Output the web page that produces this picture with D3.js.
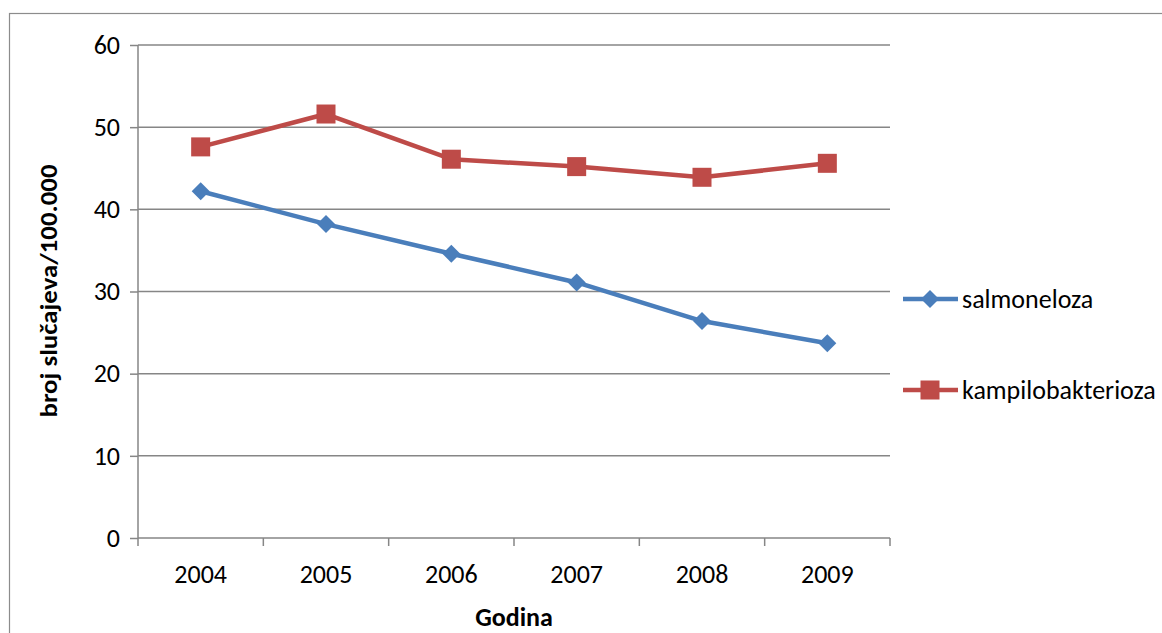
<!DOCTYPE html>
<html>
<head>
<meta charset="utf-8">
<script src="https://cdn.jsdelivr.net/npm/d3@7"></script>
<style>
  html, body { margin: 0; padding: 0; background: #fff; }
  svg { display: block; }
  text { font-family: Carlito, Lato, "Open Sans", sans-serif; fill: #000; }
</style>
</head>
<body>
<svg id="chart" width="1162" height="633"></svg>
<script>
// Incidence per 100,000 inhabitants, 2004–2009
const years = ["2004", "2005", "2006", "2007", "2008", "2009"];
const salmoneloza = [42.2, 38.2, 34.6, 31.1, 26.4, 23.7];
const kampilobakterioza = [47.6, 51.6, 46.1, 45.2, 43.9, 45.6];
const yTicks = [0, 10, 20, 30, 40, 50, 60];
const seriesNames = ["salmoneloza", "kampilobakterioza"];
const seriesColors = ["#4A7EBB", "#BE4B48"];

const svg = d3.select("#chart");
const plot = { left: 138, right: 890, top: 45, bottom: 538 };
const fs = 26;

// outer chart frame
svg.append("rect")
  .attr("x", 9.5).attr("y", 13.5)
  .attr("width", 1200).attr("height", 700)
  .attr("fill", "none").attr("stroke", "#8c8c8c").attr("stroke-width", 1.2);

const x = d3.scaleBand().domain(years).range([plot.left, plot.right]);
const y = d3.scaleLinear().domain([0, 60]).range([plot.bottom, plot.top]);

// horizontal gridlines + y axis
const yAxis = svg.append("g")
  .attr("transform", `translate(${plot.left},0)`)
  .call(d3.axisLeft(y).tickValues(yTicks).tickSize(8).tickPadding(10))
  .call(g => g.select(".domain").remove());
yAxis.selectAll(".tick line").attr("stroke", "#868686").attr("stroke-width", 1.5);
yAxis.selectAll(".tick text").attr("font-size", fs).attr("font-family", "Carlito, Lato, sans-serif");

svg.append("g").selectAll("line")
  .data(yTicks)
  .join("line")
  .attr("x1", plot.left).attr("x2", plot.right)
  .attr("y1", d => y(d)).attr("y2", d => y(d))
  .attr("stroke", "#868686").attr("stroke-width", 1.5);

svg.append("line")
  .attr("x1", plot.left).attr("x2", plot.left)
  .attr("y1", plot.top).attr("y2", plot.bottom)
  .attr("stroke", "#868686").attr("stroke-width", 1.5);

// x axis with category boundary ticks
const xg = svg.append("g").attr("transform", `translate(0,${plot.bottom})`);
const boundaries = years.map(d => x(d)).concat([plot.right]);
xg.selectAll("line")
  .data(boundaries)
  .join("line")
  .attr("x1", d => d).attr("x2", d => d)
  .attr("y1", 0).attr("y2", 8)
  .attr("stroke", "#868686").attr("stroke-width", 1.5);
xg.selectAll("text")
  .data(years)
  .join("text")
  .attr("x", d => x(d) + x.bandwidth() / 2)
  .attr("y", 45)
  .attr("text-anchor", "middle")
  .attr("font-size", fs)
  .text(d => d);

// axis titles
svg.append("text")
  .attr("transform", "translate(57,291) rotate(-90)")
  .attr("text-anchor", "middle")
  .attr("font-size", 25).attr("font-weight", "bold")
  .attr("textLength", 253).attr("lengthAdjust", "spacingAndGlyphs")
  .text("broj slučajeva/100.000");

svg.append("text")
  .attr("x", (plot.left + plot.right) / 2)
  .attr("y", 626)
  .attr("text-anchor", "middle")
  .attr("font-size", fs).attr("font-weight", "bold")
  .text("Godina");

const cx = d => x(d) + x.bandwidth() / 2;
const line = d3.line().x(d => cx(d.year)).y(d => y(d.value));

const diamond = (g, px, py, color) =>
  g.append("path")
    .attr("d", `M${px},${py - 9}L${px + 9},${py}L${px},${py + 9}L${px - 9},${py}Z`)
    .attr("fill", color);
const square = (g, px, py, color) =>
  g.append("rect")
    .attr("x", px - 9.5).attr("y", py - 9.5)
    .attr("width", 19).attr("height", 19)
    .attr("fill", color);

const allSeries = [salmoneloza, kampilobakterioza];
const markers = [diamond, square];

allSeries.forEach((vals, i) => {
  const data = years.map((yr, j) => ({ year: yr, value: vals[j] }));
  const g = svg.append("g");
  g.append("path")
    .datum(data)
    .attr("d", line)
    .attr("fill", "none")
    .attr("stroke", seriesColors[i])
    .attr("stroke-width", 4.5)
    .attr("stroke-linejoin", "round");
  data.forEach(d => markers[i](g, cx(d.year), y(d.value), seriesColors[i]));
});

// legend
const legendY = [299, 390];
seriesNames.forEach((name, i) => {
  const g = svg.append("g");
  g.append("line")
    .attr("x1", 903).attr("x2", 958)
    .attr("y1", legendY[i]).attr("y2", legendY[i])
    .attr("stroke", seriesColors[i]).attr("stroke-width", 4.5);
  markers[i](g, 930, legendY[i], seriesColors[i]);
  g.append("text")
    .attr("x", 962).attr("y", legendY[i] + 9)
    .attr("font-size", fs)
    .text(name);
});
</script>
</body>
</html>
